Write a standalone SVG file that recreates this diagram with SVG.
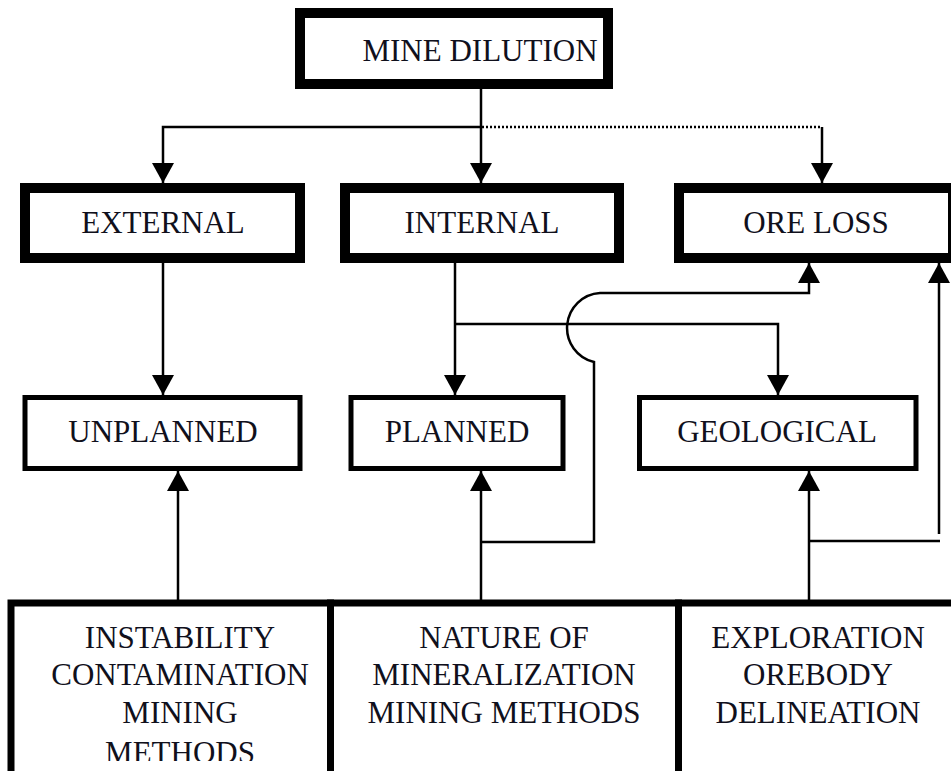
<svg xmlns="http://www.w3.org/2000/svg" width="951" height="771" viewBox="0 0 951 771">
  <style>
    .bold { fill: #fff; stroke: #000; stroke-width: 10; }
    .mid { fill: #fff; stroke: #000; stroke-width: 5; }
    .base { fill: #fff; stroke: #000; stroke-width: 7; }
    .lbl { font-family: "Liberation Serif", "Times New Roman", serif; font-size: 31px; fill: #10101c; text-anchor: middle; }
    .wire { fill: none; stroke: #000; stroke-width: 2.5; }
    .dot { fill: none; stroke: #000; stroke-width: 2.5; stroke-dasharray: 2 2; }
  </style>
  <defs>
    <marker id="arrow" markerUnits="userSpaceOnUse" markerWidth="22" markerHeight="22" refX="20" refY="11" orient="auto">
      <path d="M0,0 L20,11 L0,22 z" fill="#000"/>
    </marker>
    <clipPath id="clip-causes">
      <rect x="0" y="600" width="951" height="161"/>
    </clipPath>
  </defs>
  <rect width="951" height="771" fill="#fff"/>

  <!-- connectors -->
  <g id="connectors">
    <path class="wire" d="M481 89 V127"/>
    <path class="wire" d="M481 127 H163 V183" marker-end="url(#arrow)"/>
    <path class="wire" d="M481 127 V183" marker-end="url(#arrow)"/>
    <path class="dot" d="M482 127 H822"/>
    <path class="wire" d="M822 127 V183" marker-end="url(#arrow)"/>
    <path class="wire" d="M163 263 V395" marker-end="url(#arrow)"/>
    <path class="wire" d="M455 263 V395" marker-end="url(#arrow)"/>
    <path class="wire" d="M455 324 H778 V395" marker-end="url(#arrow)"/>
    <path class="wire" d="M178 600 V471" marker-end="url(#arrow)"/>
    <path class="wire" d="M481 600 V471" marker-end="url(#arrow)"/>
    <path class="wire" d="M809 600 V471" marker-end="url(#arrow)"/>
    <path class="wire" d="M481 542 H594 V362 A35 35 0 0 1 600 293 H809 V263" marker-end="url(#arrow)"/>
    <path class="wire" d="M809 541 H940"/>
    <path class="wire" d="M939 534 V263" marker-end="url(#arrow)"/>
  </g>

  <g id="mine-dilution">
    <rect class="bold" x="300" y="13" width="308" height="71"/>
    <text class="lbl" x="480" y="61">MINE DILUTION</text>
  </g>

  <g id="external">
    <rect class="bold" x="25" y="188" width="275" height="70"/>
    <text class="lbl" x="163" y="233">EXTERNAL</text>
  </g>

  <g id="internal">
    <rect class="bold" x="345" y="188" width="274" height="70"/>
    <text class="lbl" x="482" y="233">INTERNAL</text>
  </g>

  <g id="ore-loss">
    <rect class="bold" x="679" y="188" width="274" height="70"/>
    <text class="lbl" x="816" y="233">ORE LOSS</text>
  </g>

  <g id="unplanned">
    <rect class="mid" x="25" y="397.5" width="275" height="71"/>
    <text class="lbl" x="163" y="442">UNPLANNED</text>
  </g>

  <g id="planned">
    <rect class="mid" x="351" y="397.5" width="212" height="71"/>
    <text class="lbl" x="457" y="442">PLANNED</text>
  </g>

  <g id="geological">
    <rect class="mid" x="639.5" y="397.5" width="276.5" height="71"/>
    <text class="lbl" x="777" y="442">GEOLOGICAL</text>
  </g>

  <g id="causes-unplanned">
    <rect class="base" x="11" y="603" width="319.5" height="200"/>
    <g clip-path="url(#clip-causes)">
      <text class="lbl" x="180" y="648">INSTABILITY</text>
      <text class="lbl" x="180" y="685">CONTAMINATION</text>
      <text class="lbl" x="180" y="723">MINING</text>
      <text class="lbl" x="180" y="763">METHODS</text>
    </g>
  </g>

  <g id="causes-planned">
    <rect class="base" x="330.5" y="603" width="348" height="200"/>
    <text class="lbl" x="504" y="648">NATURE OF</text>
    <text class="lbl" x="504" y="685">MINERALIZATION</text>
    <text class="lbl" x="504" y="723">MINING METHODS</text>
  </g>

  <g id="causes-geological">
    <rect class="base" x="678.5" y="603" width="290" height="200"/>
    <text class="lbl" x="818" y="648">EXPLORATION</text>
    <text class="lbl" x="818" y="685">OREBODY</text>
    <text class="lbl" x="818" y="723">DELINEATION</text>
  </g>
</svg>
